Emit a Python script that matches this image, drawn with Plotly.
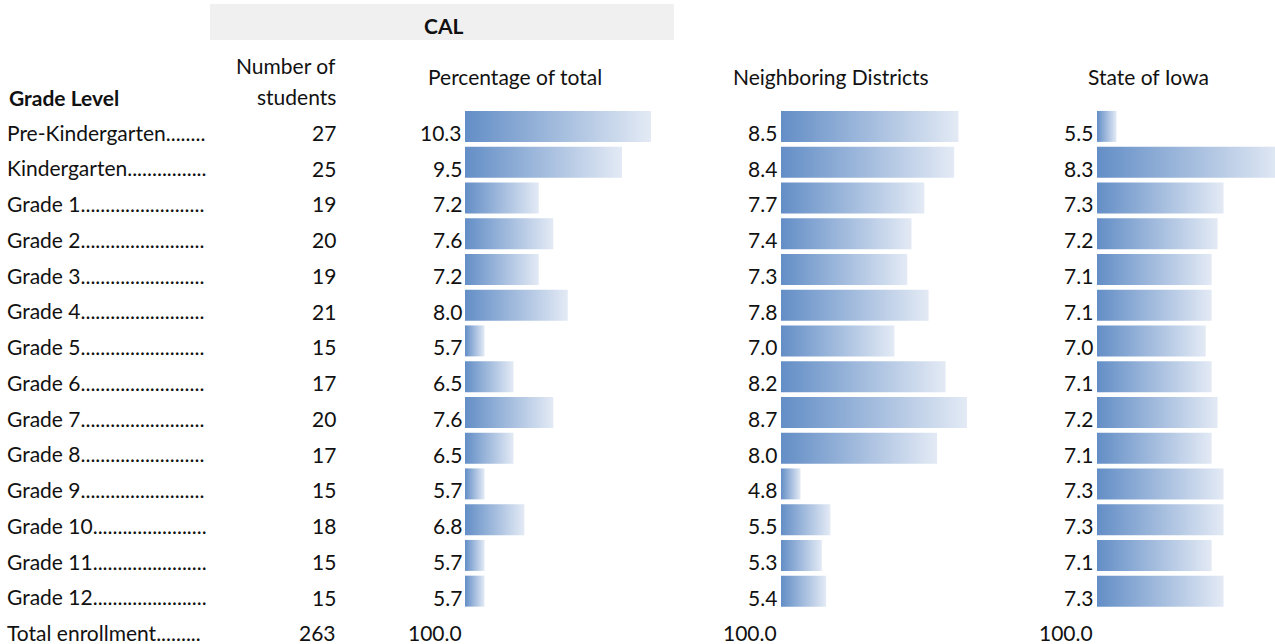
import plotly.graph_objects as go

# ---------------- data ----------------
grades = ["Pre-Kindergarten", "Kindergarten", "Grade 1", "Grade 2", "Grade 3", "Grade 4",
          "Grade 5", "Grade 6", "Grade 7", "Grade 8", "Grade 9", "Grade 10", "Grade 11", "Grade 12"]
leader_dots = [8, 16, 25, 25, 25, 25, 25, 25, 25, 25, 25, 23, 23, 23]
num_students = [27, 25, 19, 20, 19, 21, 15, 17, 20, 17, 15, 18, 15, 15]
cal_pct = [10.3, 9.5, 7.2, 7.6, 7.2, 8.0, 5.7, 6.5, 7.6, 6.5, 5.7, 6.8, 5.7, 5.7]
neighbor_pct = [8.5, 8.4, 7.7, 7.4, 7.3, 7.8, 7.0, 8.2, 8.7, 8.0, 4.8, 5.5, 5.3, 5.4]
iowa_pct = [5.5, 8.3, 7.3, 7.2, 7.1, 7.1, 7.0, 7.1, 7.2, 7.1, 7.3, 7.3, 7.1, 7.3]
total_label = "Total enrollment"
total_dots = 9
total_students = 263
total_pct = [100.0, 100.0, 100.0]
group_title = "CAL"
col_headers = ["Percentage of total", "Neighboring Districts", "State of Iowa"]

# ---------------- layout constants ----------------
W, H = 1275, 644
ROW0, ROWH = 126.4, 35.75     # bar centre of first row, row pitch (px)
NUM_OFF = 6                   # numbers sit a little below bar centre (px)
LAB_OFF = 9                   # row labels (scatter text) offset (px)
FONT = "Lato, Carlito, Calibri, sans-serif"
FS = 21
TXT = "#111111"
C0, C1 = "#638EC6", "#E3EAF5"

def yrange(off):
    return [(H - ROW0 - off) / ROWH, (0 - ROW0 - off) / ROWH]

def ypix(p):
    return (p - ROW0) / ROWH

series = [cal_pct, neighbor_pct, iowa_pct]
bar_start = [465, 781, 1097]          # px where bars start
num_right = [461, 776, 1092]          # px where value text ends
header_cx = [515, 831, 1148]
min_len, max_len = 19.5, 186.0
LABEL_RIGHT = 206                     # labels (with leader dots) clipped here

fig = go.Figure()
axes_layout = {}
half = 0.433
n = len(grades)

for j, vals in enumerate(series):
    vmin, vmax = min(vals), max(vals)
    k = (vmax - vmin) / (max_len - min_len)       # data units per px
    base = vmin - min_len * k
    right_px = min(W, bar_start[j] + 235)
    width_px = right_px - bar_start[j]
    ax = "x%d" % (j + 2)
    axes_layout["xaxis%d" % (j + 2)] = dict(
        domain=[bar_start[j] / W, right_px / W], range=[base, base + width_px * k],
        visible=False, fixedrange=True, anchor="y")
    for i, v in enumerate(vals):
        fig.add_trace(go.Scatter(
            x=[base, v, v, base, base], y=[i - half, i - half, i + half, i + half, i - half],
            xaxis=ax, yaxis="y", mode="none", fill="toself",
            fillgradient=dict(type="horizontal", start=base, stop=v,
                              colorscale=[[0, C0], [1, C1]]),
            hoverinfo="text", text="%s: %.1f" % (grades[i], v), showlegend=False))

# row labels with leader dots, clipped at the column edge
labels = [g + "." * d for g, d in zip(grades, leader_dots)] + [total_label + "." * total_dots]
axes_layout["xaxis5"] = dict(domain=[0, LABEL_RIGHT / W], range=[0, LABEL_RIGHT],
                             visible=False, fixedrange=True, anchor="y3")
fig.add_trace(go.Scatter(
    x=[7] * len(labels), y=list(range(len(labels))), xaxis="x5", yaxis="y3",
    mode="text", text=labels, textposition="middle right",
    textfont=dict(family=FONT, size=FS, color=TXT), cliponaxis=True,
    hoverinfo="skip", showlegend=False))

annotations = []

def txt(x, y, s, anchor="left", bold=False, yref="y"):
    annotations.append(dict(x=x, y=y, xref="x", yref=yref, text=("<b>%s</b>" % s) if bold else s,
                            showarrow=False, xanchor=anchor, yanchor="middle",
                            font=dict(family=FONT, size=FS, color=TXT)))

for i in range(n):
    txt(338, i, str(num_students[i]), "right", yref="y2")
    for j, vals in enumerate(series):
        txt(num_right[j] + 3, i, "%.1f" % vals[i], "right", yref="y2")

txt(338, n, str(total_students), "right", yref="y2")
for j in range(3):
    txt(num_right[j] + 3, n, "%.1f" % total_pct[j], "right", yref="y2")

txt(7, ypix(97), "Grade Level", bold=True)
txt(338, ypix(65), "Number of", "right")
txt(338, ypix(96), "students", "right")
for j, h in enumerate(col_headers):
    txt(header_cx[j], ypix(76), h, "center")
txt(443, ypix(25), group_title, "center", bold=True)

fig.update_layout(
    width=W, height=H, margin=dict(l=0, r=0, t=0, b=0),
    paper_bgcolor="white", plot_bgcolor="rgba(0,0,0,0)",
    xaxis=dict(domain=[0, 1], range=[0, W], visible=False, fixedrange=True),
    yaxis=dict(domain=[0, 1], range=yrange(0), visible=False, fixedrange=True),
    yaxis2=dict(domain=[0, 1], range=yrange(NUM_OFF), visible=False, fixedrange=True,
                overlaying="y"),
    yaxis3=dict(domain=[0, 1], range=yrange(LAB_OFF), visible=False, fixedrange=True,
                overlaying="y"),
    shapes=[dict(type="rect", xref="x", yref="y", x0=210, x1=674, y0=ypix(4), y1=ypix(40),
                 fillcolor="#F0F0F0", line=dict(width=0), layer="below")],
    annotations=annotations, showlegend=False,
    **axes_layout)

fig.write_html("out.html", config={"displayModeBar": False},
               post_script="document.body.style.margin='0';document.body.style.overflow='hidden';")
